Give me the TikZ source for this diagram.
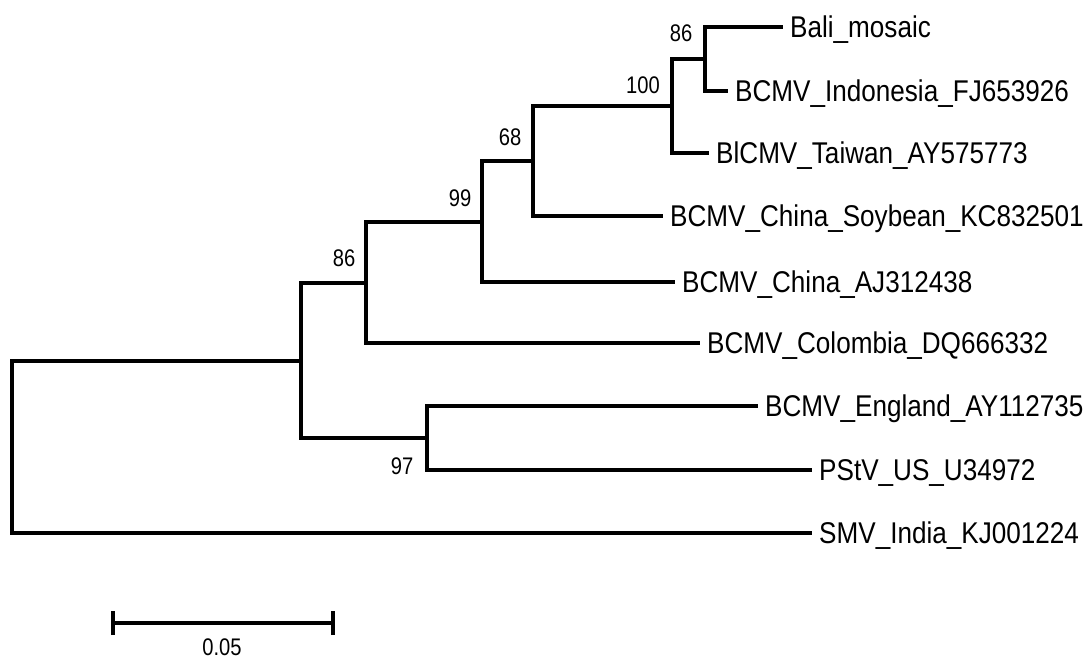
\documentclass[tikz,border=0pt]{standalone}
\usepackage{graphicx}
\usepackage{fontspec}
\setmainfont{Liberation Sans}
\newcommand\lbl[1]{\scalebox{0.87}[1]{#1}}
\newcommand\nbl[1]{\scalebox{0.84}[1]{#1}}
\begin{document}
\begin{tikzpicture}[x=1pt,y=-1pt,
  br/.style={line width=3.4pt},
  thk/.style={line width=4.4pt},
  leaf/.style={anchor=west, inner xsep=7pt, inner ysep=0pt, text height=21.5pt, text depth=0pt, font=\fontsize{30}{31}\selectfont},
  boot/.style={inner sep=0pt, font=\fontsize{24}{26}\selectfont}]
\useasboundingbox (0,0) rectangle (1087,661);
% leaves
\node[leaf] (bali) at (783,27) {\lbl{Bali\_mosaic}};
\node[leaf] (indo) at (728,91) {\lbl{BCMV\_Indonesia\_FJ653926}};
\node[leaf] (taiwan) at (709,153) {\lbl{BlCMV\_Taiwan\_AY575773}};
\node[leaf] (soy) at (663,216) {\lbl{BCMV\_China\_Soybean\_KC832501}};
\node[leaf] (chinaaj) at (675,282) {\lbl{BCMV\_China\_AJ312438}};
\node[leaf] (colombia) at (700,343) {\lbl{BCMV\_Colombia\_DQ666332}};
\node[leaf] (england) at (758,406) {\lbl{BCMV\_England\_AY112735}};
\node[leaf] (pstv) at (812,470) {\lbl{PStV\_US\_U34972}};
\node[leaf] (smv) at (812,533) {\lbl{SMV\_India\_KJ001224}};
% internal nodes
\coordinate (A) at (705,59);
\coordinate (B) at (672,106);
\coordinate (C) at (533,161);
\coordinate (D) at (482,222);
\coordinate (E) at (366,283);
\coordinate (F) at (301,361);
\coordinate (G) at (427,438);
\coordinate (R) at (12,447);
% branches
\draw[thk] (A) |- (bali.west);
\draw[thk] (A) |- (indo.west);
\draw[thk] (B) |- (A);
\draw[br] (B) |- (taiwan.west);
\draw[thk] (C) |- (B);
\draw[thk] (C) |- (soy.west);
\draw[br] (D) |- (C);
\draw[br] (D) |- (chinaaj.west);
\draw[br] (E) |- (D);
\draw[br] (E) |- (colombia.west);
\draw[br] (F) |- (E);
\draw[br] (F) |- (G);
\draw[br] (G) |- (england.west);
\draw[br] (G) |- (pstv.west);
\draw[br] (R) |- (F);
\draw[br] (R) |- (smv.west);
% bootstrap values
\node[boot] (bA) at (681,33) {\nbl{86}};
\node[boot] (bB) at (643,85) {\nbl{100}};
\node[boot] (bC) at (510,137) {\nbl{68}};
\node[boot] (bD) at (460,198) {\nbl{99}};
\node[boot] (bE) at (344,258) {\nbl{86}};
\node[boot] (bG) at (402,466) {\nbl{97}};
% scale bar
\coordinate (s1) at (113,623);
\coordinate (s2) at (333,623);
\draw[br] (s1) -- (s2);
\draw[br] ([yshift=-12pt]s1) -- ([yshift=12pt]s1);
\draw[br] ([yshift=-12pt]s2) -- ([yshift=12pt]s2);
\node[boot] (sl) at (222,647) {\nbl{0.05}};
\end{tikzpicture}
\end{document}
